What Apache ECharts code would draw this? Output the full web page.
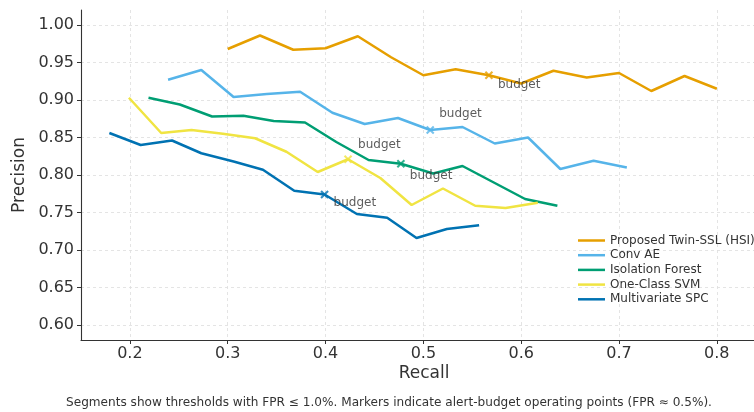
<!DOCTYPE html>
<html>
<head>
<meta charset="utf-8">
<script src="https://cdn.jsdelivr.net/npm/echarts@6/dist/echarts.min.js"></script>
<style>
  html, body { margin: 0; padding: 0; background: #ffffff; }
  #chart { width: 754px; height: 412px; }
</style>
</head>
<body>
<div id="chart"></div>
<script>
// Precision–recall segments (thresholds with FPR ≤ 1%) for each detector
const methods = ['Proposed Twin-SSL (HSI)', 'Conv AE', 'Isolation Forest', 'One-Class SVM', 'Multivariate SPC'];

const recallTwin = [0.300, 0.333, 0.367, 0.400, 0.433, 0.467, 0.500, 0.533, 0.567, 0.600, 0.633, 0.667, 0.700, 0.733, 0.767, 0.800];
const precisionTwin = [0.968, 0.986, 0.967, 0.969, 0.985, 0.957, 0.933, 0.941, 0.933, 0.922, 0.939, 0.930, 0.936, 0.912, 0.932, 0.915];

const recallConvAE = [0.239, 0.273, 0.306, 0.340, 0.374, 0.407, 0.440, 0.474, 0.507, 0.540, 0.573, 0.607, 0.640, 0.674, 0.708];
const precisionConvAE = [0.927, 0.940, 0.904, 0.908, 0.911, 0.883, 0.868, 0.876, 0.860, 0.864, 0.842, 0.850, 0.808, 0.819, 0.810];

const recallIForest = [0.219, 0.251, 0.284, 0.316, 0.347, 0.379, 0.411, 0.444, 0.477, 0.510, 0.540, 0.572, 0.604, 0.637];
const precisionIForest = [0.903, 0.894, 0.878, 0.879, 0.872, 0.870, 0.844, 0.820, 0.815, 0.802, 0.812, 0.790, 0.768, 0.759];

const recallOCSVM = [0.199, 0.232, 0.263, 0.295, 0.328, 0.360, 0.392, 0.423, 0.456, 0.488, 0.520, 0.553, 0.584, 0.617];
const precisionOCSVM = [0.903, 0.856, 0.860, 0.855, 0.849, 0.831, 0.804, 0.821, 0.796, 0.760, 0.782, 0.759, 0.756, 0.763];

const recallSPC = [0.179, 0.211, 0.243, 0.273, 0.306, 0.336, 0.368, 0.399, 0.432, 0.463, 0.493, 0.524, 0.557];
const precisionSPC = [0.856, 0.840, 0.846, 0.829, 0.818, 0.807, 0.779, 0.774, 0.748, 0.743, 0.716, 0.728, 0.733];

// Alert-budget operating points (FPR ≈ 0.5%), one per method
const budgetRecall = [0.567, 0.507, 0.477, 0.423, 0.399];
const budgetPrecision = [0.933, 0.860, 0.815, 0.821, 0.774];
const budgetText = 'budget';

const xTicks = [0.2, 0.3, 0.4, 0.5, 0.6, 0.7, 0.8];
const yTicks = [0.60, 0.65, 0.70, 0.75, 0.80, 0.85, 0.90, 0.95, 1.00];
const xName = 'Recall';
const yName = 'Precision';
const caption = 'Segments show thresholds with FPR \u2264 1.0%. Markers indicate alert-budget operating points (FPR \u2248 0.5%).';

// ---- styling ----
const FONT = '"DejaVu Sans", "Liberation Sans", sans-serif';
const TEXT = '#333333';
const colors = ['#E69F00', '#56B4E9', '#009E73', '#F0E442', '#0072B2'];
// where each "budget" note sits relative to its marker (px)
const noteOffsets = [[9, 10], [9, -16], [9, 12], [10, -14], [9, 8]];
// an "x" glyph drawn as a filled outline
const CROSS = 'path://M0,1.7L1.7,0L5,3.3L8.3,0L10,1.7L6.7,5L10,8.3L8.3,10L5,6.7L1.7,10L0,8.3L3.3,5Z';

const recalls = [recallTwin, recallConvAE, recallIForest, recallOCSVM, recallSPC];
const precisions = [precisionTwin, precisionConvAE, precisionIForest, precisionOCSVM, precisionSPC];

const zip = (xs, ys) => xs.map((x, i) => [x, ys[i]]);

const series = [];
methods.forEach((name, i) => {
  series.push({
    name: name,
    type: 'line',
    data: zip(recalls[i], precisions[i]),
    symbol: 'none',
    showSymbol: false,
    smooth: false,
    z: 2 + i,
    lineStyle: { color: colors[i], width: 2.5 },
    itemStyle: { color: colors[i] },
    emphasis: { disabled: true },
    animation: false
  });
});
methods.forEach((name, i) => {
  series.push({
    type: 'scatter',
    data: [[budgetRecall[i], budgetPrecision[i]]],
    symbol: CROSS,
    symbolSize: 8.5,
    z: 10 + i,
    itemStyle: { color: colors[i] },
    label: {
      show: true,
      formatter: budgetText,
      position: 'inside',
      align: 'left',
      verticalAlign: 'middle',
      offset: noteOffsets[i],
      fontFamily: FONT,
      fontSize: 12,
      color: TEXT,
      textBorderWidth: 0
    },
    emphasis: { disabled: true },
    silent: true,
    animation: false
  });
});

// the plot runs to the right edge of the canvas (recall 0.15 – 0.838)
const chart = echarts.init(document.getElementById('chart'), null, { renderer: 'canvas' });
chart.setOption({
  backgroundColor: '#ffffff',
  animation: false,
  grid: { left: 81, top: 10, right: 0, height: 330, containLabel: false, outerBoundsMode: 'none' },
  xAxis: {
    type: 'value',
    min: 0.15,
    max: 0.838,
    axisLine: { show: true, lineStyle: { color: '#333333', width: 1.1 } },
    axisTick: { show: true, length: 4, inside: false, customValues: xTicks, lineStyle: { color: '#333333', width: 1 } },
    axisLabel: {
      customValues: xTicks,
      formatter: v => v.toFixed(1),
      fontFamily: FONT, fontSize: 16, color: TEXT, margin: 6
    },
    splitLine: { show: true, lineStyle: { color: '#dedede', width: 0.8, type: [3, 3] } }
  },
  yAxis: {
    type: 'value',
    min: 0.58,
    max: 1.02,
    axisLine: { show: true, lineStyle: { color: '#333333', width: 1.1 } },
    axisTick: { show: true, length: 4, inside: false, customValues: yTicks, lineStyle: { color: '#333333', width: 1 } },
    axisLabel: {
      customValues: yTicks,
      formatter: v => v.toFixed(2),
      fontFamily: FONT, fontSize: 16, color: TEXT, margin: 7
    },
    splitLine: { show: true, lineStyle: { color: '#dedede', width: 0.8, type: [3, 3] } }
  },
  legend: {
    orient: 'vertical',
    left: 573,
    top: 229,
    itemWidth: 27,
    itemHeight: 2.5,
    itemGap: 1.7,
    icon: 'rect',
    data: methods,
    selectedMode: false,
    textStyle: { fontFamily: FONT, fontSize: 12, color: TEXT, lineHeight: 13 }
  },
  graphic: [
    {
      type: 'text', x: 20, y: 175, rotation: Math.PI / 2,
      style: { text: yName, font: '17px ' + FONT, fill: TEXT, align: 'center', verticalAlign: 'middle', textAlign: 'center', textVerticalAlign: 'middle' }
    },
    {
      type: 'text', x: 424, y: 374,
      style: { text: xName, font: '17px ' + FONT, fill: TEXT, align: 'center', verticalAlign: 'middle', textAlign: 'center', textVerticalAlign: 'middle' }
    },
    {
      type: 'text', x: 389, y: 403,
      style: { text: caption, font: '12.1px ' + FONT, fill: TEXT, align: 'center', verticalAlign: 'middle', textAlign: 'center', textVerticalAlign: 'middle' }
    }
  ],
  series: series
});
</script>
</body>
</html>
